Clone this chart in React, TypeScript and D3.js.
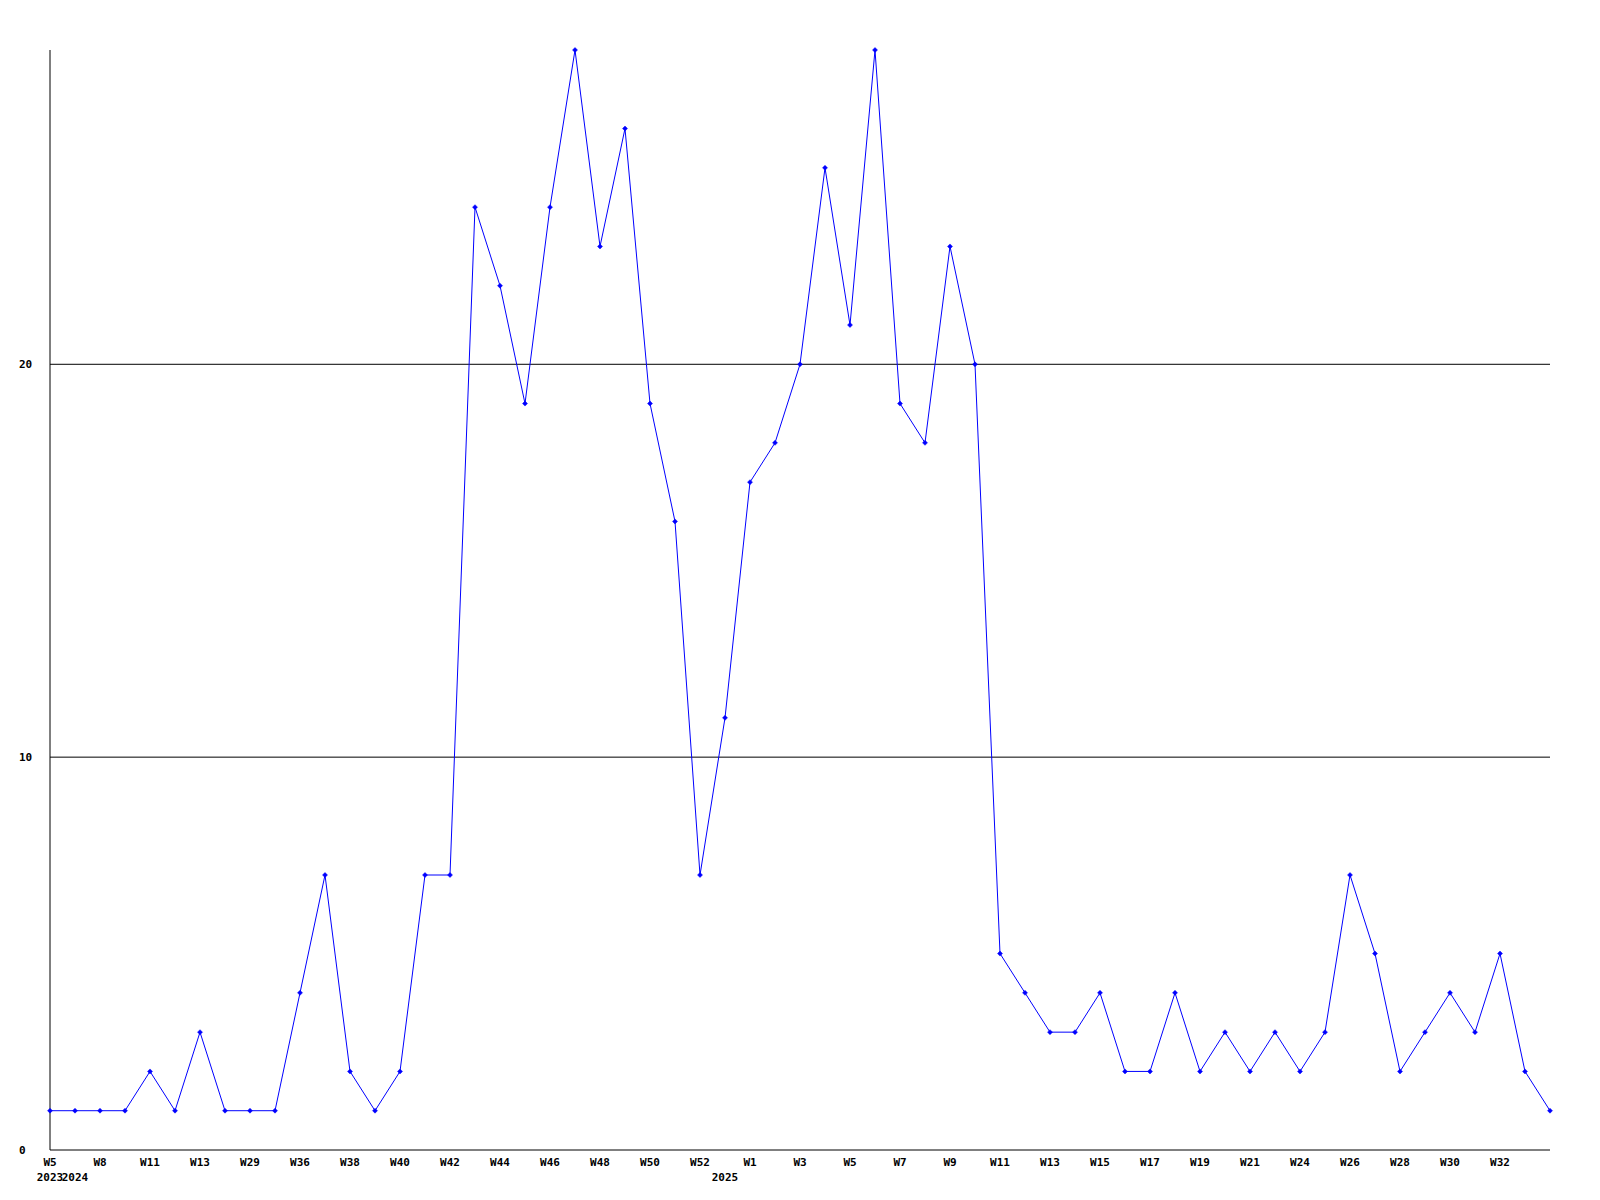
import React from "react";
import * as d3 from "d3";

const weeks: string[] = [
  "W5", "W7", "W8", "W10", "W11", "W12", "W13", "W14", "W29", "W35",
  "W36", "W37", "W38", "W39", "W40", "W41", "W42", "W43", "W44", "W45",
  "W46", "W47", "W48", "W49", "W50", "W51", "W52", "W53", "W1", "W2",
  "W3", "W4", "W5", "W6", "W7", "W8", "W9", "W10", "W11", "W12",
  "W13", "W14", "W15", "W16", "W17", "W18", "W19", "W20", "W21", "W23",
  "W24", "W25", "W26", "W27", "W28", "W29", "W30", "W31", "W32", "W33",
  "W34",
];

const years: string[] = [
  "2023", "2024", "2024", "2024", "2024", "2024", "2024", "2024", "2024", "2024",
  "2024", "2024", "2024", "2024", "2024", "2024", "2024", "2024", "2024", "2024",
  "2024", "2024", "2024", "2024", "2024", "2024", "2024", "2025", "2025", "2025",
  "2025", "2025", "2025", "2025", "2025", "2025", "2025", "2025", "2025", "2025",
  "2025", "2025", "2025", "2025", "2025", "2025", "2025", "2025", "2025", "2025",
  "2025", "2025", "2025", "2025", "2025", "2025", "2025", "2025", "2025", "2025",
  "2025",
];

const values: number[] = [
  1, 1, 1, 1, 2, 1, 3, 1, 1, 1,
  4, 7, 2, 1, 2, 7, 7, 24, 22, 19,
  24, 28, 23, 26, 19, 16, 7, 11, 17, 18,
  20, 25, 21, 28, 19, 18, 23, 20, 5, 4,
  3, 3, 4, 2, 2, 4, 2, 3, 2, 3,
  2, 3, 7, 5, 2, 3, 4, 3, 5, 2,
  1,
];

const yTicks: number[] = [0, 10, 20];
const yMax = 28;

export default function App() {
  const W = 1600, H = 1200;
  const left = 50, right = 1550, top = 50, bottom = 1150;
  const x = d3.scaleLinear().domain([0, values.length - 1]).range([left, right]);
  const y = d3.scaleLinear().domain([0, yMax]).range([bottom, top]);
  const line = d3.line<number>().x((_, i) => x(i)).y((d) => y(d));
  const font = "'DejaVu Sans Mono', monospace";

  return (
    <svg width={W} height={H} style={{ position: "absolute", left: 0, top: 0, background: "#fff" }}
      fontFamily={font} fontSize={11} fontWeight="bold">
      <rect x={0} y={0} width={W} height={H} fill="#fff" />
      {yTicks.filter((t) => t > 0).map((t) => (
        <line key={"g" + t} x1={left} x2={right} y1={y(t)} y2={y(t)} stroke="#000" strokeWidth={1} />
      ))}
      <line x1={left} x2={left} y1={top} y2={bottom} stroke="#000" strokeWidth={1} />
      <line x1={left} x2={right} y1={bottom} y2={bottom} stroke="#000" strokeWidth={1} />
      {yTicks.map((t) => (
        <text key={"y" + t} x={19} y={y(t)} dy="0.35em" fill="#000">{t}</text>
      ))}
      {weeks.map((w, i) => (i % 2 === 0 && i < weeks.length - 1 ? (
        <text key={"x" + i} x={x(i)} y={bottom + 12} dy="0.35em" textAnchor="middle" fill="#000">{w}</text>
      ) : null))}
      {years.map((yr, i) => (i === 0 || yr !== years[i - 1] ? (
        <text key={"yr" + i} x={x(i)} y={bottom + 27} dy="0.35em" textAnchor="middle" fill="#000">{yr}</text>
      ) : null))}
      <path d={line(values) || ""} fill="none" stroke="#0000ff" strokeWidth={1} />
      {values.map((v, i) => (
        <path key={"m" + i}
          d={`M${x(i)},${y(v) - 2.5}L${x(i) + 2.5},${y(v)}L${x(i)},${y(v) + 2.5}L${x(i) - 2.5},${y(v)}Z`}
          fill="#0000ff" stroke="#0000ff" strokeWidth={0.5} />
      ))}
    </svg>
  );
}
